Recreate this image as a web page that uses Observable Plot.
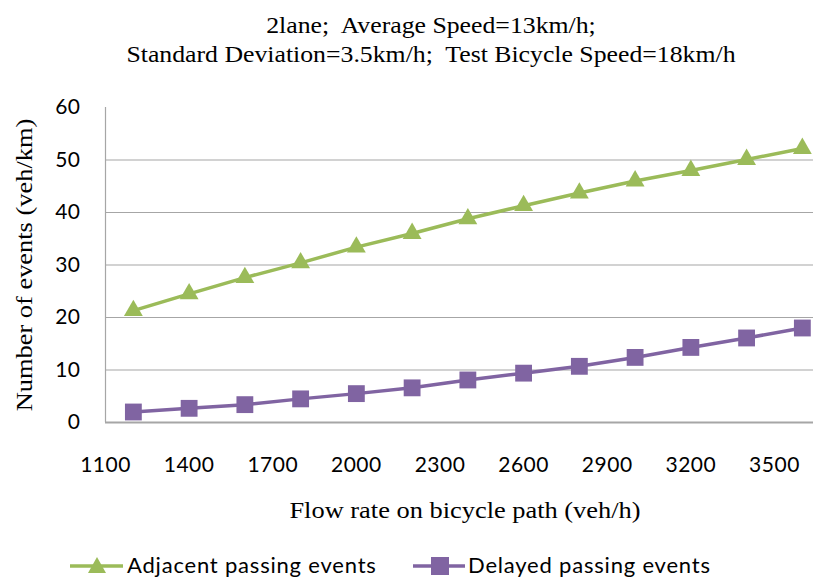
<!DOCTYPE html>
<html><head><meta charset="utf-8">
<script src="https://cdn.jsdelivr.net/npm/d3@7"></script>
<script src="https://cdn.jsdelivr.net/npm/@observablehq/plot@0.6"></script>
<style>
body{margin:0;background:#fff;}
#wrap{position:relative;width:816px;height:581px;overflow:hidden;}
#wrap svg.plot{position:absolute;left:0;top:0;}
.serif{font-family:"Liberation Serif","Times New Roman",serif;color:#000;position:absolute;white-space:pre;}
#title{left:0;width:862px;top:11px;text-align:center;font-size:23px;line-height:29px;transform:scaleX(1.12);transform-origin:431px 0;}
#xtitle{left:0;width:930px;top:497px;text-align:center;font-size:24px;transform:scaleX(1.1);transform-origin:465px 0;}
#ytitle{left:24px;top:265px;font-size:24px;transform:translate(-50%,-50%) rotate(-90deg) scaleX(1.1);}
.li{position:absolute;top:552px;height:28px;}
.lt{position:absolute;top:550px;font-family:Lato,sans-serif;font-size:22px;letter-spacing:0.8px;color:#000;white-space:nowrap;line-height:30px;}
</style></head>
<body><div id="wrap">
<div id="title" class="serif">2lane;  Average Speed=13km/h;
Standard Deviation=3.5km/h;  Test Bicycle Speed=18km/h</div>
<div id="ytitle" class="serif">Number of events (veh/km)</div>
<div id="xtitle" class="serif">Flow rate on bicycle path (veh/h)</div>
</div>
<script>
const flow = [1200,1400,1600,1800,2000,2200,2400,2600,2800,3000,3200,3400,3600];
const adjacent = [21.3,24.5,27.6,30.4,33.4,36.0,38.8,41.3,43.7,46.0,48.0,50.1,52.2];
const delayed = [2.0,2.7,3.4,4.5,5.5,6.6,8.1,9.4,10.7,12.4,14.3,16.1,18.0];
const xTicks = [1100,1400,1700,2000,2300,2600,2900,3200,3500];
const yTicks = [0,10,20,30,40,50,60];
const seriesNames = ["Adjacent passing events","Delayed passing events"];
const colors = ["#9BBB59","#8064A2"];

const adjRows = flow.map((f,i)=>({flow:f, value:adjacent[i], series:seriesNames[0]}));
const delRows = flow.map((f,i)=>({flow:f, value:delayed[i], series:seriesNames[1]}));

const chart = Plot.plot({
  width: 816, height: 581,
  marginLeft: 105, marginRight: 3, marginTop: 107, marginBottom: 159,
  style: {fontFamily: "Lato, sans-serif", fontSize: "21px", color: "#000", background: "transparent", letterSpacing: "0.5px"},
  x: {domain: [1100, 3640], label: null},
  y: {domain: [0, 60], label: null},
  marks: [
    Plot.gridY(yTicks.filter(t=>t>0 && t<60), {stroke: "#A6A6A6", strokeOpacity: 1, strokeWidth: 1.2}),
    Plot.ruleY([0], {stroke: "#A6A6A6", strokeWidth: 1.8}),
    Plot.ruleX([1100], {y1: 0, y2: 60, stroke: "#A6A6A6", strokeWidth: 1.2}),
    Plot.line(adjRows, {x: "flow", y: "value", stroke: colors[0], strokeWidth: 3.5}),
    Plot.line(delRows, {x: "flow", y: "value", stroke: colors[1], strokeWidth: 3.5}),
    Plot.dot(adjRows, {x: "flow", y: "value", symbol: "triangle", r: 7, fill: colors[0], stroke: null}),
    Plot.dot(delRows, {x: "flow", y: "value", symbol: "square", r: 9.5, fill: colors[1], stroke: null}),
    Plot.axisX(xTicks, {tickSize: 0, tickPadding: 35, label: null, fill: "#000", tickFormat: d => String(d)}),
    Plot.axisY(yTicks, {tickSize: 0, tickPadding: 25, label: null, fill: "#000", tickFormat: d => String(d)})
  ]
});
chart.classList.add("plot");
document.getElementById("wrap").prepend(chart);

// legend
const wrap = document.getElementById("wrap");
const items = [
  {name: seriesNames[0], color: colors[0], sym: "tri", left: 70, w: 53, textLeft: 127},
  {name: seriesNames[1], color: colors[1], sym: "sq", left: 413, w: 52, textLeft: 468}
];
items.forEach(it=>{
  const s = document.createElement("div");
  s.className = "li";
  s.style.left = it.left + "px";
  const c = 27;
  const marker = it.sym === "tri"
    ? '<polygon points="'+c+',5 '+(c+9)+',21 '+(c-9)+',21" fill="'+it.color+'"/>'
    : '<rect x="'+(c-9)+'" y="5" width="18" height="18" fill="'+it.color+'"/>';
  s.innerHTML = '<svg width="'+it.w+'" height="28"><line x1="0" y1="14" x2="'+it.w+'" y2="14" stroke="'+it.color+'" stroke-width="3.5"/>'+marker+'</svg>';
  wrap.appendChild(s);
  const t = document.createElement("div");
  t.className = "lt";
  t.style.left = it.textLeft + "px";
  t.textContent = it.name;
  wrap.appendChild(t);
});
</script>
</body></html>
